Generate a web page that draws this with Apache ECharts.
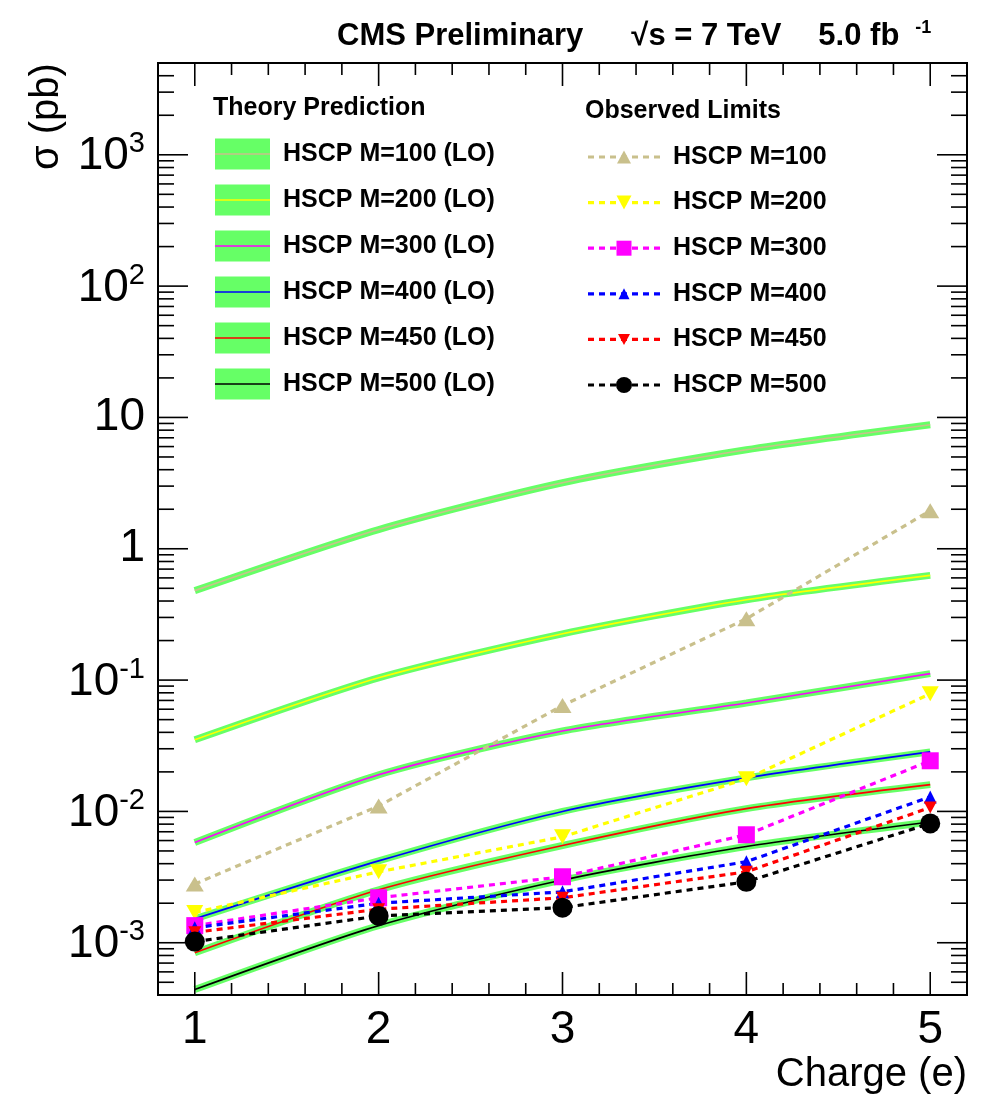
<!DOCTYPE html>
<html><head><meta charset="utf-8">
<script src="https://cdn.jsdelivr.net/npm/echarts@6/dist/echarts.min.js"></script>
<style>html,body{margin:0;padding:0;background:#fff}#c{width:984px;height:1097px}</style>
</head><body><div id="c"></div>
<script>
const FONT = '"Liberation Sans", Arial, Helvetica, sans-serif';

// ---- data ----
const charges = [1, 2, 3, 4, 5];
const massNames = ['100', '200', '300', '400', '450', '500'];

const theoryM100 = [0.48, 1.40, 3.18, 5.67, 8.8];
const theoryM200 = [0.0351, 0.104, 0.225, 0.409, 0.627];
const theoryM300 = [0.0058, 0.019, 0.041, 0.067, 0.112];
const theoryM400 = [0.00152, 0.0042, 0.0100, 0.018, 0.0284];
const theoryM450 = [0.00084, 0.00253, 0.0055, 0.0105, 0.016];
const theoryM500 = [0.00044, 0.00135, 0.0030, 0.0054, 0.0083];

const obsM100 = [0.0028, 0.0110, 0.064, 0.293, 1.95];
const obsM200 = [0.0017, 0.00347, 0.0064, 0.0177, 0.0787];
const obsM300 = [0.00135, 0.0022, 0.00318, 0.00664, 0.0243];
const obsM400 = [0.0013, 0.0020, 0.00244, 0.00414, 0.0129];
const obsM450 = [0.0012, 0.0018, 0.0022, 0.00347, 0.0107];
const obsM500 = [0.00102, 0.0016, 0.00185, 0.00291, 0.0081];

// axis ticks
const xMajorTicks = [1, 2, 3, 4, 5];
const xMinorTicks = [1.2, 1.4, 1.6, 1.8, 2.2, 2.4, 2.6, 2.8, 3.2, 3.4, 3.6, 3.8, 4.2, 4.4, 4.6, 4.8];
const yMajorTicks = [0.001, 0.01, 0.1, 1, 10, 100, 1000];
const yMinorTicks = [
  0.0004, 0.0005, 0.0006, 0.0007, 0.0008, 0.0009,
  0.002, 0.003, 0.004, 0.005, 0.006, 0.007, 0.008, 0.009,
  0.02, 0.03, 0.04, 0.05, 0.06, 0.07, 0.08, 0.09,
  0.2, 0.3, 0.4, 0.5, 0.6, 0.7, 0.8, 0.9,
  2, 3, 4, 5, 6, 7, 8, 9,
  20, 30, 40, 50, 60, 70, 80, 90,
  200, 300, 400, 500, 600, 700, 800, 900,
  2000, 3000, 4000
];

// ---- styles ----
const theorySets = [theoryM100, theoryM200, theoryM300, theoryM400, theoryM450, theoryM500];
const obsSets = [obsM100, obsM200, obsM300, obsM400, obsM450, obsM500];
const colors = ['#c9c08c', '#ffff00', '#ff00ff', '#0000ff', '#ff0000', '#000000'];
const symbols = ['triangle', 'triangle', 'rect', 'triangle', 'triangle', 'circle'];
const symbolRot = [0, 180, 0, 0, 180, 0];
const symbolSizes = [[18, 15], [17, 15], [17, 17], [13, 13], [13, 12], [20, 20]];
const legendSymbolSizes = [[14, 13], [15, 14], [15, 15], [11, 11], [12, 11], [16, 16]];
const BAND = '#66ff66';

const series = [];
theorySets.forEach((vals, i) => {
  const data = charges.map((c, j) => [c, vals[j]]);
  series.push({
    name: 'band' + massNames[i], type: 'line', data, smooth: 0.25, symbol: 'none',
    lineStyle: { color: BAND, width: 7 }, z: 2, silent: true
  });
  series.push({
    name: 'HSCP M=' + massNames[i] + ' (LO)', type: 'line', data, smooth: 0.25, symbol: 'none',
    lineStyle: { color: colors[i], width: 1.6 }, z: 3, silent: true
  });
});
obsSets.forEach((vals, i) => {
  series.push({
    name: 'HSCP M=' + massNames[i], type: 'line',
    data: charges.map((c, j) => [c, vals[j]]),
    symbol: symbols[i], symbolRotate: symbolRot[i], symbolSize: symbolSizes[i],
    itemStyle: { color: colors[i] },
    lineStyle: { color: colors[i], width: 3.2, type: [6, 5] }, z: 4, silent: true
  });
});

const tickData = [].concat(
  xMajorTicks.map(v => [v, 1, 0]),
  xMinorTicks.map(v => [v, 1, 1]),
  yMajorTicks.map(v => [1, v, 2]),
  yMinorTicks.map(v => [1, v, 3])
);
series.push({
  type: 'custom', silent: true, z: 10, clip: false,
  encode: { x: 0, y: 1 },
  data: tickData,
  renderItem: function (params, api) {
    const kind = api.value(2);
    const p = api.coord([api.value(0), api.value(1)]);
    const cs = params.coordSys;
    const L = cs.x, R = cs.x + cs.width, T = cs.y, B = cs.y + cs.height;
    const st = { stroke: '#000', lineWidth: 1.6 };
    let segs;
    if (kind < 2) {
      const len = kind === 0 ? 23 : 12;
      segs = [[p[0], B, p[0], B - len], [p[0], T, p[0], T + len]];
    } else {
      const len = kind === 2 ? 30 : 16;
      segs = [[L, p[1], L + len, p[1]], [R, p[1], R - len, p[1]]];
    }
    return {
      type: 'group',
      children: segs.map(s => ({ type: 'line', shape: { x1: s[0], y1: s[1], x2: s[2], y2: s[3] }, style: st }))
    };
  }
});

// ---- legend (graphic) ----
const graphic = [];
graphic.push({ type: 'text', x: 213, y: 108, style: { text: 'Theory Prediction', font: 'bold 25px ' + FONT, fill: '#000', align: 'left', verticalAlign: 'middle' } });
graphic.push({ type: 'text', x: 585, y: 111, style: { text: 'Observed Limits', font: 'bold 25px ' + FONT, fill: '#000', align: 'left', verticalAlign: 'middle' } });
massNames.forEach((m, i) => {
  const cy = 154 + 46 * i;
  graphic.push({ type: 'rect', shape: { x: 215, y: cy - 15.5, width: 55, height: 31 }, style: { fill: BAND } });
  graphic.push({ type: 'line', shape: { x1: 215, y1: cy, x2: 270, y2: cy }, style: { stroke: colors[i], lineWidth: 1.6 } });
  graphic.push({ type: 'text', x: 283, y: cy, style: { text: 'HSCP M=' + m + ' (LO)', font: 'bold 25px ' + FONT, fill: '#000', align: 'left', verticalAlign: 'middle' } });

  const oy = 157 + 45.6 * i;
  graphic.push({ type: 'line', shape: { x1: 588, y1: oy, x2: 660, y2: oy }, style: { stroke: colors[i], lineWidth: 3.2, lineDash: [6, 5] } });
  const cx = 624, w = legendSymbolSizes[i][0], h = legendSymbolSizes[i][1];
  if (symbols[i] === 'circle') {
    graphic.push({ type: 'circle', shape: { cx: cx, cy: oy, r: w / 2 }, style: { fill: colors[i] } });
  } else if (symbols[i] === 'rect') {
    graphic.push({ type: 'rect', shape: { x: cx - w / 2, y: oy - h / 2, width: w, height: h }, style: { fill: colors[i] } });
  } else {
    const up = symbolRot[i] === 0;
    const pts = up
      ? [[cx, oy - h / 2], [cx + w / 2, oy + h / 2], [cx - w / 2, oy + h / 2]]
      : [[cx, oy + h / 2], [cx + w / 2, oy - h / 2], [cx - w / 2, oy - h / 2]];
    graphic.push({ type: 'polygon', shape: { points: pts }, style: { fill: colors[i] } });
  }
  graphic.push({ type: 'text', x: 673, y: oy, style: { text: 'HSCP M=' + m, font: 'bold 25px ' + FONT, fill: '#000', align: 'left', verticalAlign: 'middle' } });
});
// y axis title
graphic.push({ type: 'text', x: 47, y: 170, rotation: Math.PI / 2, style: { text: 'σ (pb)', font: '40px ' + FONT, fill: '#000', align: 'left', verticalAlign: 'middle' } });

const option = {
  animation: false,
  backgroundColor: '#fff',
  title: {
    text: '{a|CMS Preliminary}{g|}{a|√s = 7 TeV}{h|}{a|5.0 fb}{i|}{s|-1}',
    left: 332, top: 14,
    textStyle: {
      rich: {
        a: { fontSize: 31, fontWeight: 'bold', fontFamily: FONT, color: '#000', lineHeight: 34 },
        g: { width: 48 }, h: { width: 37 }, i: { width: 16 },
        s: { fontSize: 18, fontWeight: 'bold', fontFamily: FONT, color: '#000', verticalAlign: 'top', lineHeight: 18 }
      }
    }
  },
  grid: { left: 158, top: 63, width: 809, height: 932, show: true, borderColor: '#000', borderWidth: 2, containLabel: false, outerBoundsMode: 'none' },
  xAxis: {
    type: 'value', min: 0.8, max: 5.2, interval: 0.2,
    axisLine: { show: false }, axisTick: { show: false }, splitLine: { show: false },
    axisLabel: {
      margin: 12, fontSize: 46, fontFamily: FONT, color: '#000',
      formatter: v => (Math.abs(v - Math.round(v)) < 1e-6 ? String(Math.round(v)) : '')
    },
    name: 'Charge (e)', nameLocation: 'end', nameGap: 0,
    nameTextStyle: { fontSize: 40, fontFamily: FONT, color: '#000', align: 'right', verticalAlign: 'top', padding: [60, 0, 0, 0] }
  },
  yAxis: {
    type: 'log', logBase: 10, min: 0.0004, max: 5000,
    axisLine: { show: false }, axisTick: { show: false }, splitLine: { show: false },
    axisLabel: {
      margin: 13, color: '#000',
      formatter: function (v) {
        const l = Math.log10(v);
        const e = Math.round(l);
        if (Math.abs(l - e) > 1e-6) return '';
        if (e === 0) return '{p|1}';
        if (e === 1) return '{p|10}';
        return '{b|10}{s|' + e + '}';
      },
      rich: {
        p: { fontSize: 46, fontFamily: FONT, color: '#000' },
        b: { fontSize: 46, fontFamily: FONT, color: '#000', lineHeight: 50, padding: [10, 0, 0, 0], verticalAlign: 'bottom' },
        s: { fontSize: 29, fontFamily: FONT, color: '#000', lineHeight: 29, verticalAlign: 'top' }
      }
    }
  },
  graphic: graphic,
  series: series
};
const chart = echarts.init(document.getElementById('c'), null, { renderer: 'canvas' });
chart.setOption(option);
</script>
</body></html>
